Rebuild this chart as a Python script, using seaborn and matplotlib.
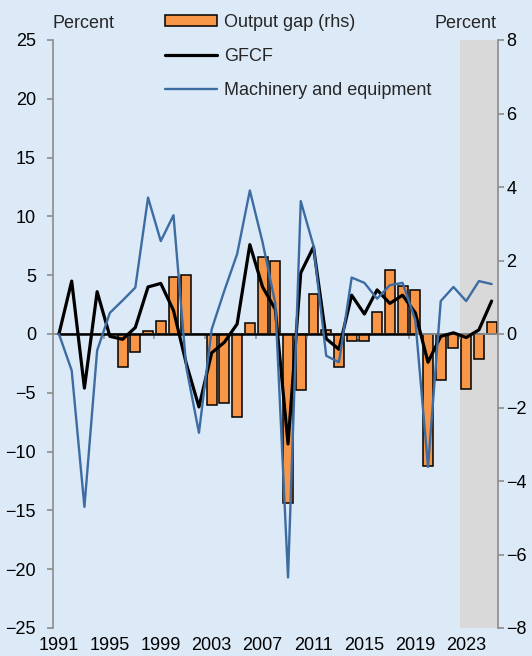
import numpy as np
import matplotlib
matplotlib.use("Agg")
import matplotlib.pyplot as plt
import seaborn as sns

sns.set_theme(style="white")
plt.rcParams["font.family"] = ["Liberation Sans", "DejaVu Sans"]

# data (1991-2025), last three years are forecast (shaded)
years = [str(y) for y in range(1991, 2026)]

gfcf = [0.0, 4.5, -4.6, 3.6, -0.2, -0.45, 0.55, 4.0, 4.3, 2.0,
        -2.5, -6.2, -1.6, -0.7, 0.85, 7.6, 4.0, 2.1, -9.35, 5.2,
        7.4, -0.4, -1.3, 3.3, 1.7, 3.75, 2.6, 3.3, 1.8, -2.4,
        -0.2, 0.1, -0.3, 0.35, 2.8]

machinery = [0.0, -3.1, -14.7, -1.4, 1.8, 2.85, 3.95, 11.6, 7.9, 10.1,
             -2.8, -8.4, 0.4, 3.7, 6.8, 12.2, 7.8, 2.6, -20.7, 11.3,
             7.5, -1.85, -2.4, 4.8, 4.35, 3.0, 4.15, 4.35, 1.2, -11.3,
             2.8, 4.0, 2.8, 4.5, 4.25]

output_gap = [np.nan, np.nan, np.nan, np.nan, np.nan, -0.9, -0.5, 0.07, 0.35, 1.56,
              1.61, 0.0, -1.93, -1.89, -2.25, 0.31, 2.1, 1.98, -4.6, -1.52,
              1.09, 0.12, -0.91, -0.2, -0.18, 0.59, 1.74, 1.31, 1.2, -3.6,
              -1.25, -0.38, -1.51, -0.69, 0.32]

tick_years = ["1991", "1995", "1999", "2003", "2007", "2011", "2015", "2019", "2023"]
forecast_start = "2023"

bg = "#dce9f7"
orange = "#f79646"
blue = "#3d6ca3"
grey = "#8c8c8c"
fs = 13

fig = plt.figure(figsize=(5.32, 6.56), dpi=100, facecolor=bg)
ax = fig.add_axes([52.6 / 532, 1 - 628 / 656, (498 - 52.6) / 532, 588 / 656])
ax2 = ax.twinx()
ax.set_zorder(ax2.get_zorder() + 1)
ax.patch.set_visible(False)
ax2.patch.set_visible(False)

pos = np.arange(len(years))

# output gap bars on the right axis
fc = years.index(forecast_start)
ax2.axvspan(fc - 0.5, len(years) - 0.5, color="#d9d9d9", zorder=0, lw=0)
sns.barplot(x=years, y=output_gap, order=years, ax=ax2, color=orange,
            saturation=1, edgecolor="black", linewidth=1.1, width=0.78,
            label="Output gap (rhs)")

# zero line and category ticks
ax.axhline(0, color=grey, lw=1.3, zorder=1)
ax.hlines(0, 0, years.index("2019"), color="black", lw=1.8, zorder=2)
ax.vlines(np.arange(3.5, len(years) - 1, 4), -0.4, 0, color=grey, lw=1.1, zorder=1)

sns.lineplot(x=pos, y=gfcf, ax=ax, color="black", linewidth=2.3, label="GFCF", zorder=3)
sns.lineplot(x=pos, y=machinery, ax=ax, color=blue, linewidth=1.7,
             label="Machinery and equipment", zorder=4)
if ax.get_legend():
    ax.get_legend().remove()
if ax2.get_legend():
    ax2.get_legend().remove()

ax.set_xlim(-0.5, len(years) - 0.5)
ax.set_ylim(-25, 25)
ax2.set_ylim(-8, 8)
ax.set_yticks(range(-25, 26, 5))
ax2.set_yticks(range(-8, 9, 2))
ax.set_xticks([years.index(t) for t in tick_years])
ax.set_xticklabels(tick_years)
ax.set_xlabel("")
ax.set_ylabel("")
ax2.set_ylabel("")

for a in (ax, ax2):
    for s in a.spines.values():
        s.set_visible(False)
ax.spines["left"].set_visible(True)
ax.spines["left"].set_color(grey)
ax.spines["left"].set_linewidth(1.2)
ax2.spines["right"].set_visible(True)
ax2.spines["right"].set_color(grey)
ax2.spines["right"].set_linewidth(1.2)

ax.tick_params(axis="y", direction="out", length=4, width=1.2, color=grey,
               pad=8, labelsize=fs, labelcolor="black", left=True)
ax2.tick_params(axis="y", direction="out", length=4, width=1.2, color=grey,
                pad=2, labelsize=fs, labelcolor="black", right=True)
ax.tick_params(axis="x", length=0, pad=6.5, labelsize=fs, labelcolor="black")

fig.text(52.6 / 532, 1 - 24 / 656, "Percent", fontsize=fs, ha="left", va="center")
fig.text(496 / 532, 1 - 24 / 656, "Percent", fontsize=fs, ha="right", va="center")

handles = ax2.containers[:1] + ax.lines[-2:]
labels = ["Output gap (rhs)", "GFCF", "Machinery and equipment"]
fig.legend(handles, labels, loc="upper left", bbox_to_anchor=(165 / 532, 1 - 14 / 656),
           frameon=False, fontsize=fs, borderpad=0, borderaxespad=0,
           handlelength=2.9, handleheight=0.55, handletextpad=0.35, labelspacing=0.93)

fig.savefig("out.png", dpi=100, facecolor=bg)
